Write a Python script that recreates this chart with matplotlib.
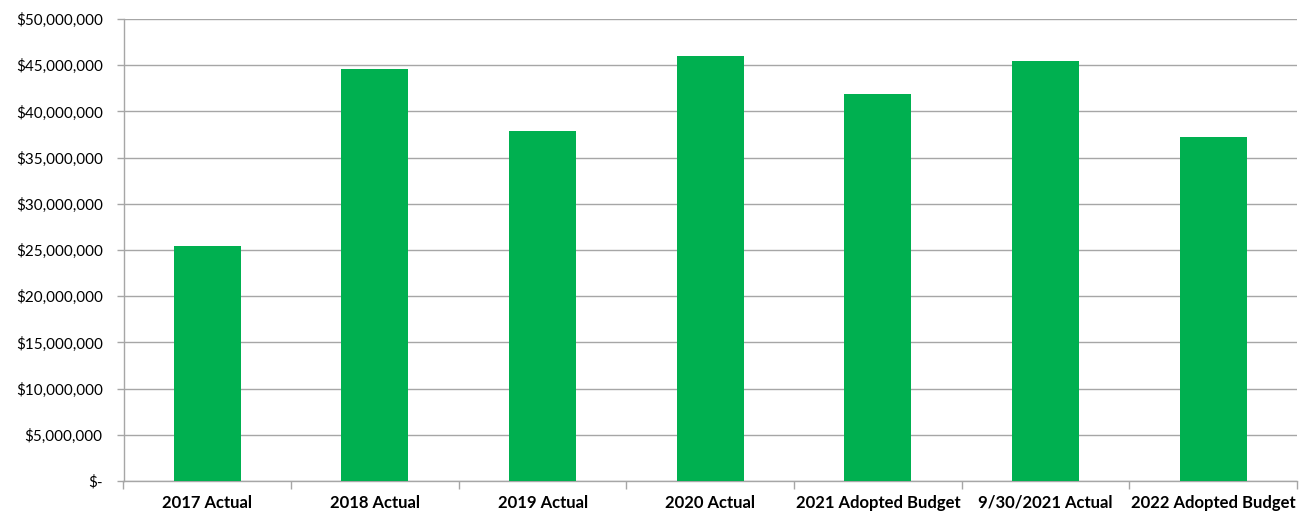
import matplotlib
matplotlib.use("Agg")
import matplotlib.pyplot as plt
from matplotlib.ticker import FuncFormatter, MultipleLocator
import numpy as np

categories = ["2017 Actual", "2018 Actual", "2019 Actual", "2020 Actual",
              "2021 Adopted Budget", "9/30/2021 Actual", "2022 Adopted Budget"]
values = [25430000, 44600000, 37880000, 46000000, 41900000, 45480000, 37250000]

plt.rcParams['font.family'] = ['Lato', 'DejaVu Sans']

fig = plt.figure(figsize=(13.09, 5.12), dpi=100)
ax = fig.add_axes([123.5/1309, 1 - 481/512, (1297-123.5)/1309, (481-19)/512])

x = np.arange(len(categories))
ax.bar(x, values, width=0.4, color="#00B050", zorder=3)

ax.set_xlim(-0.5, len(categories) - 0.5)
ax.set_ylim(0, 50000000)
ax.yaxis.set_major_locator(MultipleLocator(5000000))

def fmt(v, pos):
    if v == 0:
        return "$-"
    return "${:,.0f}".format(v)
ax.yaxis.set_major_formatter(FuncFormatter(fmt))

ax.set_xticks(x)
ax.set_xticklabels(categories, fontweight="bold", fontsize=12)
ax.tick_params(axis='x', length=0, pad=10)
ax.set_xticks(np.arange(-0.5, len(categories)), minor=True)
ax.tick_params(axis='x', which='minor', length=6, color="#A6A6A6", width=1)
ax.tick_params(axis='y', length=5, color="#A6A6A6", width=1, labelsize=11, pad=10)

ax.grid(axis='y', color="#A6A6A6", linewidth=1, zorder=0)
for s in ['top', 'right']:
    ax.spines[s].set_visible(False)
for s in ['left', 'bottom']:
    ax.spines[s].set_color("#A6A6A6")
    ax.spines[s].set_linewidth(1)

fig.savefig("out.png", dpi=100)
